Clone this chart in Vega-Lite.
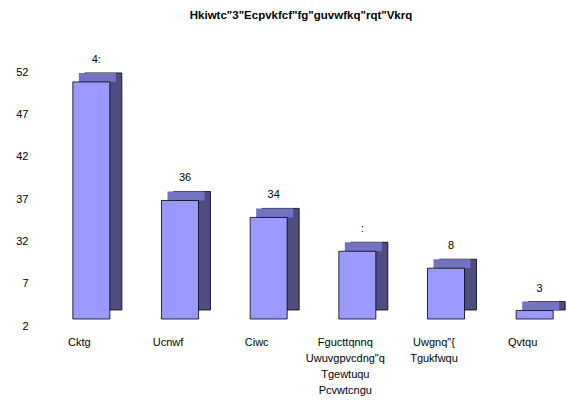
{
  "$schema": "https://vega.github.io/schema/vega-lite/v6.json",
  "autosize": {"type": "none"},
  "padding": {"left": 35, "top": 72, "right": 0, "bottom": 76},
  "width": 532,
  "height": 254,
  "background": "white",
  "config": {
    "view": {"stroke": null},
    "font": "Liberation Sans"
  },
  "title": {
    "text": "Hkiwtc\"3\"Ecpvkfcf\"fg\"guvwfkq\"rqt\"Vkrq",
    "fontSize": 11.5,
    "fontWeight": "bold",
    "font": "Liberation Sans",
    "color": "black",
    "anchor": "middle",
    "offset": 32
  },
  "data": {
    "values": [
      {"cat": "Cktg", "value": 28, "label": "4:"},
      {"cat": "Ucnwf", "value": 14, "label": "36"},
      {"cat": "Ciwc", "value": 12, "label": "34"},
      {"cat": "Fgucttqnnq\nUwuvgpvcdng\"q\nTgewtuqu\nPcvwtcngu", "value": 8, "label": ":"},
      {"cat": "Uwgnq\"{\nTgukfwqu", "value": 6, "label": "8"},
      {"cat": "Qvtqu", "value": 1, "label": "3"}
    ]
  },
  "encoding": {
    "x": {
      "field": "cat",
      "type": "nominal",
      "sort": null,
      "scale": {"paddingInner": 0, "paddingOuter": 0},
      "axis": {
        "title": null,
        "domain": false,
        "ticks": false,
        "labelAngle": 0,
        "labelFontSize": 11,
        "labelColor": "black",
        "labelFont": "Liberation Sans",
        "labelPadding": 10,
        "labelLineHeight": 16,
        "labelExpr": "split(datum.label, '\\n')"
      }
    },
    "y": {
      "field": "value",
      "type": "quantitative",
      "scale": {"domain": [0, 30], "nice": false},
      "axis": {
        "title": null,
        "domain": false,
        "ticks": false,
        "grid": false,
        "values": [0, 5, 10, 15, 20, 25, 30],
        "labelFontSize": 11,
        "labelColor": "black",
        "labelFont": "Liberation Sans",
        "labelPadding": 7,
        "labelExpr": "datum.value==30?'52':datum.value==25?'47':datum.value==20?'42':datum.value==15?'37':datum.value==10?'32':datum.value==5?'7':'2'"
      }
    }
  },
  "layer": [
    {
      "mark": {"type": "bar", "size": 37, "xOffset": 24, "yOffset": -16, "color": "#4d4d80", "stroke": "black", "strokeWidth": 0.8}
    },
    {
      "mark": {"type": "tick", "size": 37, "thickness": 9, "xOffset": 18, "yOffset": -11.5, "color": "#7373c4", "opacity": 1}
    },
    {
      "mark": {"type": "bar", "size": 37, "xOffset": 12, "yOffset": -7, "color": "#9999ff", "stroke": "black", "strokeWidth": 0.8}
    },
    {
      "mark": {"type": "text", "xOffset": 17, "yOffset": -29, "fontSize": 11, "font": "Liberation Sans", "color": "black", "baseline": "middle"},
      "encoding": {"text": {"field": "label"}}
    }
  ]
}
